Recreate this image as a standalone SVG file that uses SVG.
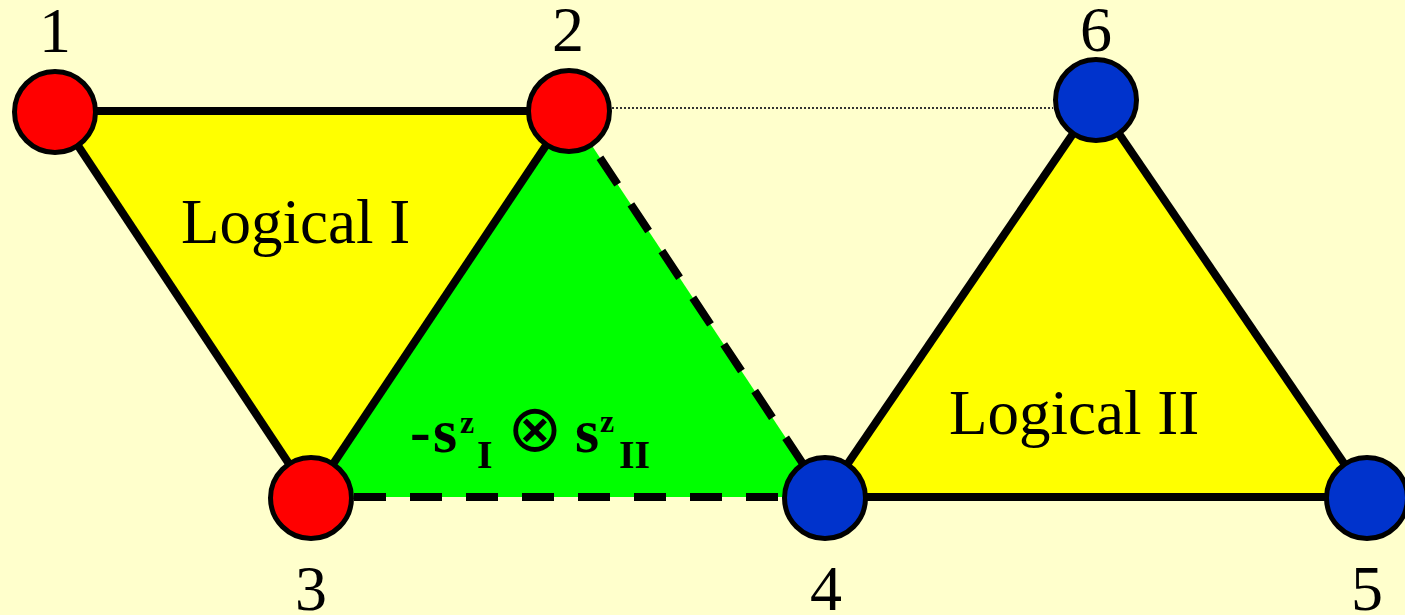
<svg xmlns="http://www.w3.org/2000/svg" width="1405" height="615" viewBox="0 0 1405 615">
<style>
.tri{stroke:none}
.edge{stroke:#000;stroke-width:8;fill:none;stroke-linecap:butt}
.dash{stroke-dasharray:32 24}
.dot{stroke:#333;stroke-width:2;stroke-dasharray:2 2;fill:none}
.node{stroke:#000;stroke-width:5}
.red{fill:#FF0000}
.blue{fill:#0033CC}
.num{font-family:"Liberation Serif",serif;font-size:64px;fill:#000;text-anchor:middle}
.lbl{font-family:"Liberation Serif",serif;font-size:63px;fill:#000}
.m{font-family:"Liberation Serif",serif;font-weight:bold;fill:#000}
.big{font-size:62px}
.sup{font-size:32px}
.sub{font-size:40px}
.op{font-family:"DejaVu Sans",sans-serif;font-size:66px;fill:#000;text-anchor:middle}
</style>
<rect width="1405" height="615" fill="#FFFFCC"/>
<g id="faces">
<polygon class="tri" points="55,111 569,111 311,497" fill="#FFFF00"/>
<polygon class="tri" points="569,111 311,497 825,497" fill="#00FF00"/>
<polygon class="tri" points="1096,100 825,497 1367,497" fill="#FFFF00"/>
</g>
<g id="connectors">
<line class="edge" x1="55" y1="111" x2="569" y2="111"/>
<line class="edge" x1="55" y1="111" x2="311" y2="497"/>
<line class="edge" x1="569" y1="111" x2="311" y2="497"/>
<line class="edge dash" x1="569" y1="111" x2="825" y2="497"/>
<line class="edge dash" x1="354" y1="497" x2="782" y2="497"/>
<line class="edge" x1="1096" y1="100" x2="825" y2="497"/>
<line class="edge" x1="1096" y1="100" x2="1367" y2="497"/>
<line class="edge" x1="825" y1="497" x2="1367" y2="497"/>
<line class="dot" x1="612" y1="108" x2="1053" y2="108"/>
</g>
<g id="node1"><circle class="node red" cx="55" cy="112" r="40.5"/><text class="num" x="55" y="52">1</text></g>
<g id="node2"><circle class="node red" cx="569" cy="111" r="40.5"/><text class="num" x="568" y="51">2</text></g>
<g id="node3"><circle class="node red" cx="311" cy="498" r="40.5"/><text class="num" x="311" y="610">3</text></g>
<g id="node4"><circle class="node blue" cx="825" cy="498" r="40.5"/><text class="num" x="826" y="610">4</text></g>
<g id="node5"><circle class="node blue" cx="1367" cy="498" r="40.5"/><text class="num" x="1367" y="610">5</text></g>
<g id="node6"><circle class="node blue" cx="1096" cy="100" r="40.5"/><text class="num" x="1096" y="51">6</text></g>
<g id="labels">
<text class="m"><tspan class="big" x="410" y="452">-</tspan><tspan class="big" x="433" y="452">s</tspan><tspan class="sup" x="460" y="433">z</tspan><tspan class="sub" x="477" y="468">I</tspan></text>
<text class="op" x="535" y="451">⊗</text>
<text class="m"><tspan class="big" x="575" y="452">s</tspan><tspan class="sup" x="600" y="432">z</tspan><tspan class="sub" x="619" y="468">II</tspan></text>
<text class="lbl" x="181" y="243">Logical I</text>
<text class="lbl" x="949" y="434">Logical II</text>
</g>
</svg>
